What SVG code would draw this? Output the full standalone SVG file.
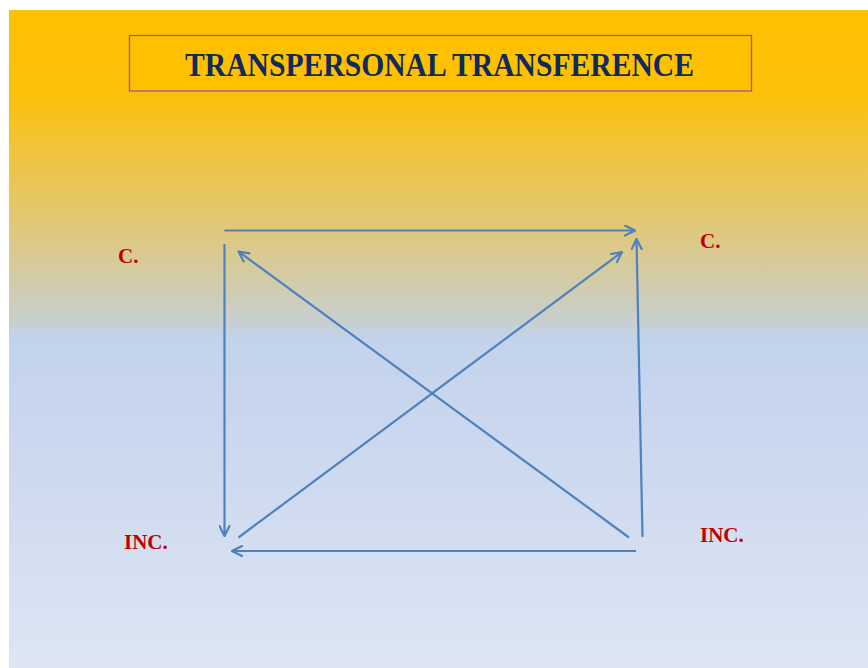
<svg xmlns="http://www.w3.org/2000/svg" width="868" height="668" viewBox="0 0 868 668">
  <defs>
    <linearGradient id="bg" x1="0" y1="10" x2="0" y2="668" gradientUnits="userSpaceOnUse">
      <stop offset="0" stop-color="#FFC000"/>
      <stop offset="0.13" stop-color="#FCC00A"/>
      <stop offset="0.22" stop-color="#F0C440"/>
      <stop offset="0.33" stop-color="#E0C87A"/>
      <stop offset="0.42" stop-color="#D2CCAE"/>
      <stop offset="0.475" stop-color="#C6CFD0"/>
      <stop offset="0.50" stop-color="#C3D3EC"/>
      <stop offset="0.70" stop-color="#CDD9EF"/>
      <stop offset="1" stop-color="#DEE6F4"/>
    </linearGradient>
    <marker id="head" viewBox="0 0 12 12" refX="11" refY="6" markerWidth="12" markerHeight="12" markerUnits="userSpaceOnUse" orient="auto">
      <path d="M1,1 L11,6 L1,11" fill="none" stroke="#4F81BD" stroke-width="2.2" stroke-linecap="round" stroke-linejoin="round"/>
    </marker>
    <style>
      .arrow { stroke: #4F81BD; stroke-width: 2.2; fill: none; }
      .label { font-family: "Liberation Serif", "Times New Roman", serif; font-weight: bold; font-size: 21px; fill: #C00000; }
      .title { font-family: "Liberation Serif", "Times New Roman", serif; font-weight: bold; font-size: 33px; fill: #0F2A5C; }
    </style>
  </defs>

  <!-- backdrop -->
  <rect x="9" y="10" width="859" height="658" fill="url(#bg)"/>

  <!-- heading -->
  <g id="title">
    <rect x="129.5" y="35.5" width="622" height="55.5" fill="#FFC000" stroke="#8E5BA6" stroke-width="1.3"/>
    <text class="title" x="185" y="76" textLength="509" lengthAdjust="spacingAndGlyphs">TRANSPERSONAL TRANSFERENCE</text>
  </g>

  <!-- corner labels -->
  <g id="conscious-left">
    <text class="label" x="118" y="263">C.</text>
  </g>
  <g id="conscious-right">
    <text class="label" x="700" y="248">C.</text>
  </g>
  <g id="unconscious-left">
    <text class="label" x="124" y="549">INC.</text>
  </g>
  <g id="unconscious-right">
    <text class="label" x="700" y="542">INC.</text>
  </g>

  <!-- connectors -->
  <g id="connectors" class="arrow">
    <line class="arrow" x1="224.5" y1="230.5" x2="635" y2="230.5" marker-end="url(#head)"/>
    <line class="arrow" x1="224.5" y1="244" x2="224.5" y2="536" marker-end="url(#head)"/>
    <line class="arrow" x1="642.5" y1="537" x2="636.5" y2="239" marker-end="url(#head)"/>
    <line class="arrow" x1="636" y1="551" x2="232" y2="551" marker-end="url(#head)"/>
    <line class="arrow" x1="629" y1="537.5" x2="238.5" y2="251.5" marker-end="url(#head)"/>
    <line class="arrow" x1="238.5" y1="537.5" x2="622" y2="252" marker-end="url(#head)"/>
  </g>
</svg>
